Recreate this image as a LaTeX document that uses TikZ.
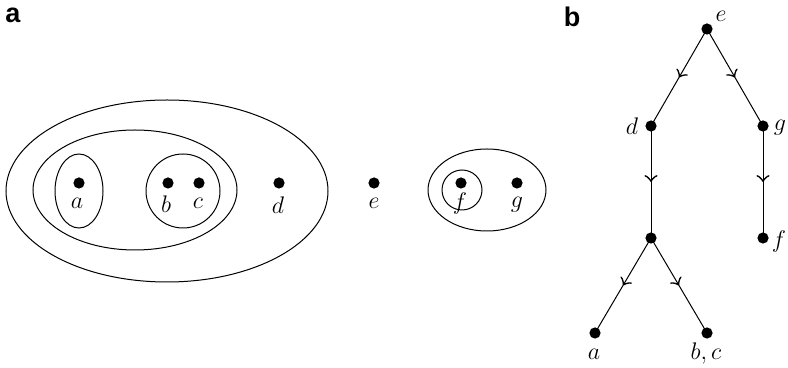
\documentclass[tikz,border=0pt]{standalone}
\usepackage{fontspec}
\newfontfamily\panelfont{Liberation Sans}
\usepackage{tikz}
\usetikzlibrary{decorations.markings}

\tikzset{
  pt/.style={circle,fill=black,inner sep=0pt,minimum size=5.6pt},
  lbl/.style={font=\fontsize{13}{15}\selectfont,inner sep=1pt},
  midarrow/.style={postaction={decorate},decoration={markings,
    mark=at position 0.5 with {\arrow[scale=1.7]{to}}}},
  panel/.style={font=\panelfont\bfseries\fontsize{13.5}{15}\selectfont}
}

\begin{document}
\begin{tikzpicture}[x=0.5pt,y=-0.5pt,line width=0.5pt]
\useasboundingbox (0,0) rectangle (788,368);

% panel a
\node[panel] (pa) at (13,15) {a};

\draw (167,191) ellipse [x radius=80.5pt, y radius=45.5pt];
\draw (135,190) ellipse [x radius=51pt, y radius=30pt];
\draw (79,191) ellipse [x radius=12pt, y radius=18.5pt];
\draw (183,191) circle (18.5pt);
\draw (487,190) ellipse [x radius=29.5pt, y radius=20.5pt];
\draw (462,190) circle (10pt);

\node[pt] (sa) at (79,183) {};
\node[pt] (sb) at (168,183) {};
\node[pt] (sc) at (199,183) {};
\node[pt] (sd) at (279,183) {};
\node[pt] (se) at (374,183) {};
\node[pt] (sf) at (461,183) {};
\node[pt] (sg) at (517,183) {};

\node[lbl] at (77,203) {$a$};
\node[lbl] at (166,204) {$b$};
\node[lbl] at (198,203) {$c$};
\node[lbl] at (278,205) {$d$};
\node[lbl] at (374,203) {$e$};
\node[lbl] at (460,204) {$f$};
\node[lbl] at (517,205) {$g$};

% panel b
\node[panel] (pb) at (572,17) {b};

\node[pt] (te) at (707,29) {};
\node[pt] (td) at (651,126) {};
\node[pt] (tg) at (763,126) {};
\node[pt] (tm) at (651,238) {};
\node[pt] (tf) at (763,238) {};
\node[pt] (ta) at (595,333) {};
\node[pt] (tbc) at (707,333) {};

\node[lbl] at (721,16) {$e$};
\node[lbl] at (632,126) {$d$};
\node[lbl] at (780,128) {$g$};
\node[lbl] at (779,242) {$f$};
\node[lbl] at (594,354) {$a$};
\node[lbl] at (706,354) {$b, c$};

\draw[midarrow] (te.center) -- (td.center);
\draw[midarrow] (te.center) -- (tg.center);
\draw[midarrow] (td.center) -- (tm.center);
\draw[midarrow] (tg.center) -- (tf.center);
\draw[midarrow] (tm.center) -- (ta.center);
\draw[midarrow] (tm.center) -- (tbc.center);
\end{tikzpicture}
\end{document}
